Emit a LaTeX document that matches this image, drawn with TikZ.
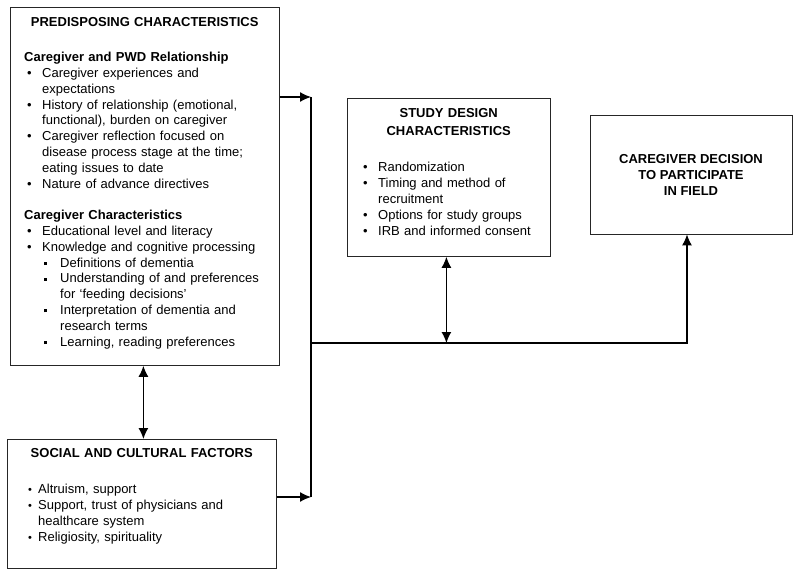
\documentclass[tikz,border=0pt]{standalone}
\usepackage{fontspec}
\setmainfont{Liberation Sans}
\usetikzlibrary{arrows.meta,positioning}

% list helpers for the box texts
\newcommand{\nl}{\hfil\break}
\newcommand{\ttl}[2]{\noindent\makebox[#1]{\bfseries #2}\par}
\newcommand{\hd}[1]{\noindent\textbf{#1}\par}
\newcommand{\itm}[1]{\noindent\hangindent=18pt\hangafter=1\makebox[18pt][l]{\hspace{3pt}\textbullet}#1\par}
\newcommand{\subpt}[1]{\noindent\hangindent=36pt\hangafter=1\makebox[36pt][l]{\hspace{20pt}\rule[2pt]{3pt}{3pt}}#1\par}
\newcommand{\smitm}[1]{\noindent\hangindent=11pt\hangafter=1\makebox[11pt][l]{\hspace{1pt}\raisebox{0.6pt}{\fontsize{11}{11}\selectfont\textbullet}}#1\par}

\begin{document}
\begin{tikzpicture}[
    x=1pt, y=-1pt,
    panel/.style={rectangle, draw=black!85, line width=0.8pt, inner sep=0pt, anchor=north west},
    body/.style={inner sep=0pt, anchor=north west, text width=300pt, align=left, font=\fontsize{13}{15.8}\selectfont},
    arrow/.style={-{Latex[length=11pt,width=10pt]}, line width=1.3pt},
    dbl/.style={{Latex[length=11pt,width=10pt]}-{Latex[length=11pt,width=10pt]}, line width=1.3pt},
    link/.style={line width=1.3pt}
]
\useasboundingbox (0,0) rectangle (800,576);

% Nodes
\node[panel, minimum width=269pt, minimum height=358pt] (pred) at (10,7) {};
\node[panel, minimum width=203pt, minimum height=158pt] (study) at (347,98) {};
\node[panel, minimum width=202pt, minimum height=119pt, anchor=center, align=center,
      font=\bfseries\fontsize{13}{16}\selectfont] (decision) at (691,174.5)
      {CAREGIVER DECISION\\TO PARTICIPATE\\IN FIELD};
\node[panel, minimum width=269pt, minimum height=129pt] (social) at (7,439) {};

% Box texts
\node[body] (predtext) at (24,17.4) {%
  \ttl{241pt}{PREDISPOSING CHARACTERISTICS}
  \vspace{19.2pt}
  \hd{Caregiver and PWD Relationship}
  \itm{Caregiver experiences and\nl expectations}
  \itm{History of relationship (emotional,\nl functional), burden on caregiver}
  \itm{Caregiver reflection focused on\nl disease process stage at the time;\nl eating issues to date}
  \itm{Nature of advance directives}
  \vspace{15.8pt}
  \hd{Caregiver Characteristics}
  \itm{Educational level and literacy}
  \itm{Knowledge and cognitive processing}
  \subpt{Definitions of dementia}
  \subpt{Understanding of and preferences\nl for ‘feeding decisions’}
  \subpt{Interpretation of dementia and\nl research terms}
  \subpt{Learning, reading preferences}
};
\node[body, font=\fontsize{13}{16}\selectfont] (studytext) at (360,108.4) {%
  \ttl{177pt}{STUDY DESIGN}
  \vspace{2pt}
  \ttl{177pt}{CHARACTERISTICS}
  \vspace{20pt}
  \itm{Randomization}
  \itm{Timing and method of\nl recruitment}
  \itm{Options for study groups}
  \itm{IRB and informed consent}
};
\node[body, font=\fontsize{13}{16}\selectfont] (socialtext) at (27,448.4) {%
  \ttl{229pt}{SOCIAL AND CULTURAL FACTORS}
  \vspace{20pt}
  \smitm{Altruism, support}
  \smitm{Support, trust of physicians and\nl healthcare system}
  \smitm{Religiosity, spirituality}
};

% Junctions
\coordinate (jtop) at (311,97);
\coordinate (jmid) at (311,343);
\coordinate (jbot) at (311,497);

% Edges
\draw[arrow] (pred.east |- jtop) -- (jtop);
\draw[arrow] (social.east |- jbot) -- (jbot);
\draw[link] (jtop) -- (jbot);
\draw[arrow] (jmid) -| ([xshift=-4pt]decision.south);
\draw[dbl] ([xshift=-1.5pt]pred.south) -- ([xshift=-1.5pt]pred.south |- social.north);
\draw[dbl] ([xshift=-2.5pt]study.south) -- ([xshift=-2.5pt]study.south |- jmid);

\end{tikzpicture}
\end{document}
